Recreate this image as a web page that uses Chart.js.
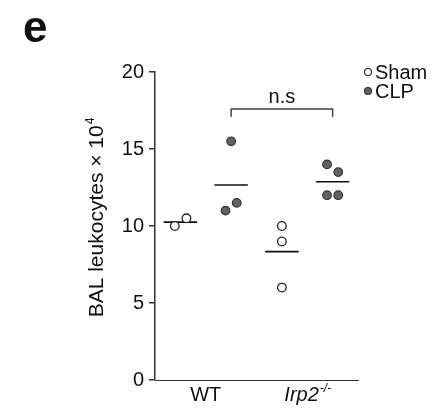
<!DOCTYPE html>
<html>
<head>
<meta charset="utf-8">
<script src="https://cdn.jsdelivr.net/npm/chart.js@4/dist/chart.umd.min.js"></script>
<style>
  html, body { margin: 0; padding: 0; background: #fff; }
  #wrap { width: 436px; height: 414px; }
</style>
</head>
<body>
<div id="wrap"><canvas id="balChart" width="436" height="414"></canvas></div>
<script>
// group labels and where they sit on the x scale
const groups = ['WT', 'Irp2'];
const groupSup = ['', '-/-'];
const groupX = [1.5, 3.5];
const yTicks = [0, 5, 10, 15, 20];

// BAL leukocytes (x 10^4), one value per mouse
const wtShamX = [0.89, 1.12];
const wtSham = [10.0, 10.5];
const koShamX = [3, 3, 3];
const koSham = [10.0, 9.0, 6.0];

const wtClpX = [2.0, 1.89, 2.11];
const wtClp = [15.5, 11.0, 11.5];
const koClpX = [3.89, 4.11, 3.89, 4.11];
const koClp = [14.0, 13.5, 12.0, 12.0];

// column centres for the mean bars
const meanX = [1, 2, 3, 4];

// significance bracket WT CLP vs Irp2 CLP
const bracketX = [2, 2, 4, 4];
const bracketY = [17.1, 17.6, 17.6, 17.1];
const bracketText = 'n.s';

const FONT = "'Liberation Sans', Arial, Helvetica, sans-serif";
const toPts = (xs, ys) => ys.map((y, i) => ({ x: xs[i], y }));
const mean = arr => arr.reduce((s, v) => s + v, 0) / arr.length;

function meanLine(cx, values) {
  const m = mean(values);
  return {
    type: 'line',
    data: [{ x: cx - 0.33, y: m }, { x: cx + 0.33, y: m }],
    borderColor: '#111',
    borderWidth: 1.6,
    pointRadius: 0,
    showLine: true,
    order: 2
  };
}

const shamStyle = { backgroundColor: '#fff', borderColor: '#222', borderWidth: 1.3, pointRadius: 4.3, order: 1 };
const clpStyle = { backgroundColor: '#616161', borderColor: '#333', borderWidth: 1.2, pointRadius: 4.3, order: 1 };

const datasets = [
  meanLine(meanX[0], wtSham),
  meanLine(meanX[1], wtClp),
  meanLine(meanX[2], koSham),
  meanLine(meanX[3], koClp),
  { label: 'Sham', data: toPts(wtShamX, wtSham).concat(toPts(koShamX, koSham)), ...shamStyle },
  { label: 'CLP', data: toPts(wtClpX, wtClp).concat(toPts(koClpX, koClp)), ...clpStyle },
  {
    type: 'line',
    data: toPts(bracketX, bracketY),
    borderColor: '#444',
    borderWidth: 1.5,
    pointRadius: 0,
    showLine: true,
    order: 3
  }
];

// text drawn around the plot: panel letter, legend, group names, title
const annotations = {
  id: 'annotations',
  afterDraw(chart) {
    const ctx = chart.ctx;
    const xs = chart.scales.x, ys = chart.scales.y;
    ctx.save();
    ctx.fillStyle = '#111';

    // panel letter
    ctx.font = 'bold 44px ' + FONT;
    ctx.textAlign = 'left';
    ctx.textBaseline = 'alphabetic';
    ctx.fillText('e', 23, 42);

    // y title with superscript exponent
    ctx.save();
    ctx.translate(103, 218);
    ctx.rotate(-Math.PI / 2);
    ctx.font = '21px ' + FONT;
    const main = 'BAL leukocytes \u00d7 10';
    const wMain = ctx.measureText(main).width;
    ctx.font = '12px ' + FONT;
    const wSup = ctx.measureText('4').width;
    const start = -(wMain + wSup) / 2;
    ctx.font = '21px ' + FONT;
    ctx.textAlign = 'left';
    ctx.fillText(main, start, 0);
    ctx.font = '12px ' + FONT;
    ctx.fillText('4', start + wMain + 1, -9);
    ctx.restore();

    // group labels under the x axis
    groups.forEach((g, i) => {
      const cx = xs.getPixelForValue(groupX[i]);
      const italic = groupSup[i] !== '';
      ctx.font = (italic ? 'italic ' : '') + '20px ' + FONT;
      const w = ctx.measureText(g).width;
      ctx.font = '12px ' + FONT;
      const ws = groupSup[i] ? ctx.measureText(groupSup[i]).width : 0;
      const x0 = cx - (w + ws) / 2;
      ctx.font = (italic ? 'italic ' : '') + '20px ' + FONT;
      ctx.textAlign = 'left';
      ctx.fillText(g, x0, 401);
      if (groupSup[i]) {
        ctx.font = 'italic 12px ' + FONT;
        ctx.fillText(groupSup[i], x0 + w + 1, 392);
      }
    });

    // bracket label
    ctx.font = '20px ' + FONT;
    ctx.textAlign = 'center';
    ctx.textBaseline = 'middle';
    ctx.fillText(bracketText, xs.getPixelForValue(3), ys.getPixelForValue(bracketY[1]) - 11);

    // legend
    const legendRows = [chart.data.datasets[4], chart.data.datasets[5]];
    legendRows.forEach((ds, i) => {
      const y = 72 + i * 19;
      ctx.beginPath();
      ctx.arc(368, y, 3.5, 0, Math.PI * 2);
      ctx.fillStyle = ds.backgroundColor;
      ctx.fill();
      ctx.lineWidth = 1.1;
      ctx.strokeStyle = ds.borderColor;
      ctx.stroke();
      ctx.fillStyle = '#111';
      ctx.font = '20px ' + FONT;
      ctx.textAlign = 'left';
      ctx.textBaseline = 'middle';
      ctx.fillText(ds.label, 375, y + 1);
    });
    ctx.restore();
  }
};

new Chart(document.getElementById('balChart'), {
  type: 'scatter',
  data: { datasets },
  options: {
    responsive: false,
    animation: false,
    layout: { padding: { top: 72, right: 78, left: 0, bottom: 0 } },
    plugins: { legend: { display: false }, tooltip: { enabled: false } },
    scales: {
      x: {
        type: 'linear',
        min: 0.5,
        max: 4.5,
        ticks: { display: false },
        grid: { display: false },
        border: { color: '#333', width: 1 },
        afterFit: s => { s.height = 34; }
      },
      y: {
        min: 0,
        max: 20,
        afterBuildTicks: s => { s.ticks = yTicks.map(v => ({ value: v })); },
        ticks: { font: { family: FONT, size: 20 }, color: '#111', padding: 5 },
        grid: { drawOnChartArea: false, tickLength: 6, color: '#333', lineWidth: 1.5 },
        border: { color: '#333', width: 1.5 },
        afterFit: s => { s.width = 155; }
      }
    }
  },
  plugins: [annotations]
});
</script>
</body>
</html>
